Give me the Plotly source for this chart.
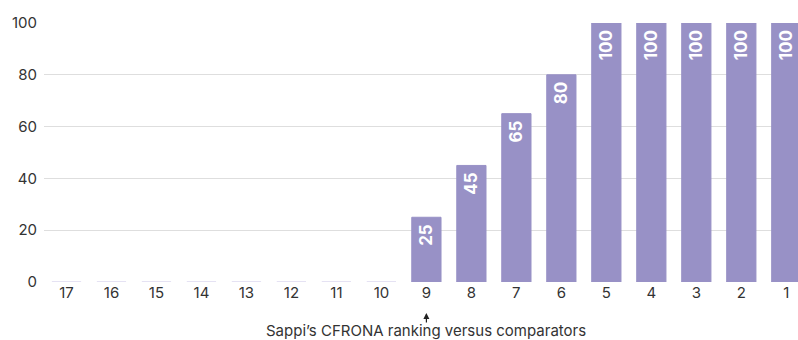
import plotly.graph_objects as go

# CFRONA score by ranking position (17 = lowest, 1 = highest)
rankings = ["17", "16", "15", "14", "13", "12", "11", "10", "9", "8", "7", "6", "5", "4", "3", "2", "1"]
scores = [0, 0, 0, 0, 0, 0, 0, 0, 25, 45, 65, 80, 100, 100, 100, 100, 100]
y_ticks = [0, 20, 40, 60, 80, 100]
sappi_rank = "9"
axis_title = "Sappi’s CFRONA ranking versus comparators"

BAR = "#9891c6"
ZERO_BAR = "#dcd8ee"
FONT = "Inter, Roboto, sans-serif"
TEXT = "#333333"

fig = go.Figure(
    go.Bar(
        x=rankings,
        y=scores,
        marker=dict(
            color=BAR,
            line=dict(color=[ZERO_BAR if v == 0 else BAR for v in scores], width=1),
        ),
        # a non-breaking space keeps the label clear of the bar's top edge
        text=[f"{v}\u00a0" if v > 0 else "" for v in scores],
        textposition="inside",
        insidetextanchor="end",
        textangle=-90,
        textfont=dict(family=FONT, size=17, color="white", weight="bold"),
        cliponaxis=False,
        hoverinfo="skip",
    )
)

sappi_idx = rankings.index(sappi_rank)

# small arrow pointing up at Sappi's position
fig.add_annotation(
    x=sappi_idx, xref="x",
    y=0, yref="paper",
    yshift=-31,
    text="",
    showarrow=True,
    arrowhead=2,
    arrowsize=1,
    arrowwidth=1.2,
    arrowcolor="#222222",
    ax=0, ay=11,
)

# axis caption
fig.add_annotation(
    x=sappi_idx, xref="x",
    y=0, yref="paper",
    yshift=-60,
    yanchor="bottom",
    text=axis_title,
    showarrow=False,
    font=dict(family=FONT, size=15, color=TEXT),
)

fig.update_layout(
    width=798,
    height=340,
    margin=dict(l=44, r=0, t=23, b=58),
    paper_bgcolor="white",
    plot_bgcolor="white",
    bargap=0.35,
    showlegend=False,
    font=dict(family=FONT, size=15, color=TEXT),
    xaxis=dict(
        type="category",
        range=[-0.5, 16.26],
        showgrid=False,
        showline=False,
        ticks="",
        tickfont=dict(size=15, color=TEXT),
    ),
    yaxis=dict(
        range=[0, 100],
        tickvals=y_ticks,
        showgrid=True,
        gridcolor="#dedede",
        gridwidth=1,
        zeroline=True,
        zerolinecolor="rgba(0,0,0,0)",
        showline=False,
        ticks="",
        ticklabelstandoff=6,
        tickfont=dict(size=15, color=TEXT),
    ),
)

fig.write_html("out.html")
